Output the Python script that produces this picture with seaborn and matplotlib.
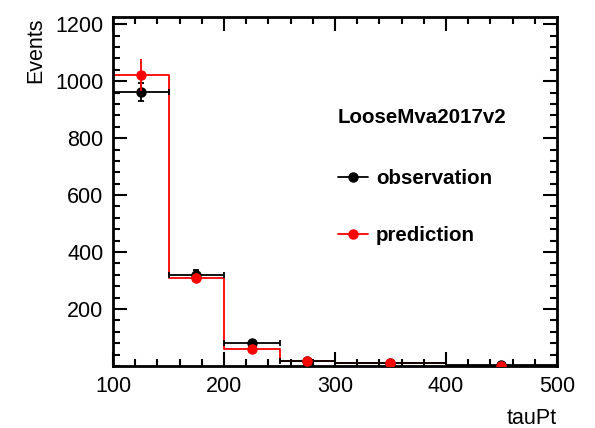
import matplotlib
matplotlib.use("Agg")
import matplotlib.pyplot as plt
from matplotlib.lines import Line2D
from matplotlib.ticker import MultipleLocator
import numpy as np
import seaborn as sns

# binning in tauPt
bin_edges = [100, 150, 200, 250, 300, 400, 500]
bin_centers = [125, 175, 225, 275, 350, 450]

# observed events and stat errors
observation = [961, 319, 80, 18, 9, 2]
observation_err = [31, 18, 9, 4, 3, 1.5]

# predicted events and errors
prediction = [1022, 309, 58, 16, 9, 1]
prediction_err = [55, 16, 7, 3, 2, 1]

legend_title = "LooseMva2017v2"

sns.set_style("ticks")
plt.rcParams["font.family"] = ["Liberation Sans", "DejaVu Sans"]
plt.rcParams.update({"text.color": "black", "axes.labelcolor": "black",
                     "xtick.color": "black", "ytick.color": "black",
                     "axes.edgecolor": "black"})

fig = plt.figure(figsize=(5.95, 4.28), dpi=100)
ax = fig.add_axes([0.19, 0.145, 0.746, 0.815])

half_widths = [(bin_edges[i + 1] - bin_edges[i]) / 2 for i in range(len(bin_centers))]

# prediction as step histogram
sns.histplot(x=bin_centers, weights=prediction, bins=bin_edges, element="step",
             fill=False, color="red", linewidth=1.3, ax=ax)
ax.errorbar(bin_centers, prediction, yerr=prediction_err, fmt="o", color="red",
            markersize=6.5, elinewidth=1.3, capsize=0, zorder=4)

# observation with horizontal bin width bars
ax.errorbar(bin_centers, observation, xerr=half_widths, yerr=observation_err, fmt="o",
            color="black", markersize=6.5, elinewidth=1.3, capsize=2.5, capthick=1.3,
            zorder=3)

ax.set_xlim(100, 500)
ax.set_ylim(0, 1225)
ax.xaxis.set_major_locator(MultipleLocator(100))
ax.xaxis.set_minor_locator(MultipleLocator(20))
ax.set_yticks([200, 400, 600, 800, 1000, 1200])
ax.yaxis.set_minor_locator(MultipleLocator(40))
ax.tick_params(which="both", direction="in", top=True, right=True, labelsize=15.5,
               width=1.5, pad=7)
ax.tick_params(which="major", length=10)
ax.tick_params(which="minor", length=5)
for spine in ax.spines.values():
    spine.set_linewidth(2)
    spine.set_visible(True)

ax.set_xlabel("tauPt", loc="right", fontsize=15.5, labelpad=8)
ax.set_ylabel("Events", loc="top", fontsize=15.5, labelpad=6)

ax.text(0.507, 0.711, legend_title, transform=ax.transAxes, fontsize=14.8,
        fontweight="bold", ha="left", va="center")

handles = [
    Line2D([], [], color="black", marker="o", markersize=6.5, linewidth=1.3),
    Line2D([], [], color="red", marker="o", markersize=6.5, linewidth=1.3),
]
ax.legend(handles, ["observation", "prediction"], loc="upper left",
          bbox_to_anchor=(0.507, 0.565), frameon=False, borderpad=0,
          borderaxespad=0, labelspacing=1.86, handlelength=1.46,
          handletextpad=0.39, prop={"weight": "bold", "size": 14.8})

fig.savefig("out.png", dpi=100)
